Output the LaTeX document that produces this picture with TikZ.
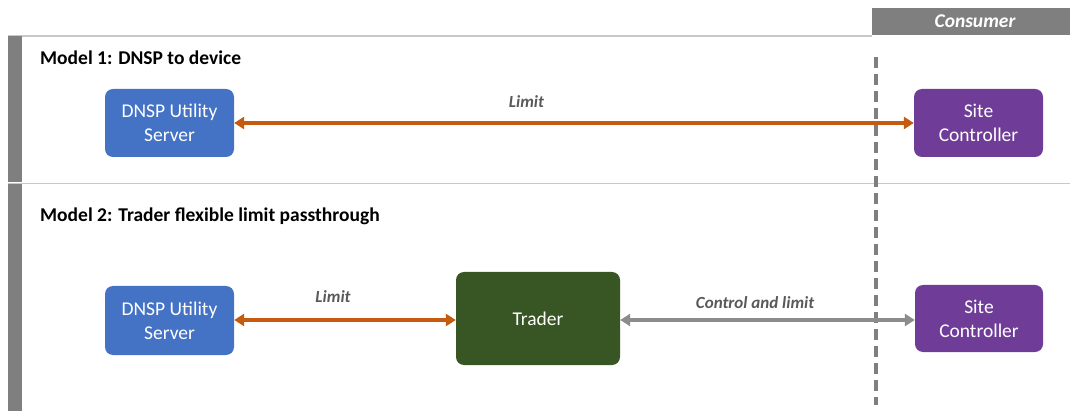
\documentclass[tikz,border=0pt]{standalone}
\usepackage{fontspec}
\setmainfont{Carlito}
\usetikzlibrary{arrows.meta}
\definecolor{cblue}{HTML}{4472C4}
\definecolor{cpurple}{HTML}{6F3D98}
\definecolor{cgreen}{HTML}{375623}
\definecolor{corange}{HTML}{C55A11}
\definecolor{cgray}{HTML}{7F7F7F}
\definecolor{clight}{HTML}{C8C8C8}
\definecolor{ctext}{HTML}{595959}
\tikzset{
  box/.style={rounded corners=8pt, text=white, align=center, font=\fontsize{19.5}{24}\selectfont, inner sep=0pt},
  title/.style={anchor=west, font=\bfseries\fontsize{19.5}{24}\selectfont, inner sep=0pt},
  lbl/.style={font=\bfseries\itshape\fontsize{17}{20}\selectfont, text=ctext, inner sep=0pt},
  oarrow/.style={draw=corange, line width=3.6pt, {Triangle[width=12pt,length=10pt]}-{Triangle[width=12pt,length=10pt]}},
  garrow/.style={draw=cgray!90, line width=3.6pt, {Triangle[width=12pt,length=10pt]}-{Triangle[width=12pt,length=10pt]}},
}
\begin{document}
\begin{tikzpicture}[x=1pt,y=-1pt]
\useasboundingbox (0,0) rectangle (1070,411);
% header
\fill[cgray] (872,8) rectangle (1070,35);
\node[font=\bfseries\itshape\fontsize{19.5}{24}\selectfont, text=white, inner sep=0pt] (cons) at (975,21.5) {Consumer};
% frame lines
\draw[clight, line width=1.5pt] (8,36) -- (872,36);
\draw[clight, line width=1.5pt] (8,183.5) -- (1070,183.5);
\fill[cgray] (8,36) rectangle (22,182.5);
\fill[cgray] (8,184.5) rectangle (22,411);
% dashed consumer boundary
\draw[cgray, line width=4pt, dash pattern=on 11pt off 6pt] (876,57) -- (876,405);
% titles
\node[title] (t1) at (40,58) {Model 1: DNSP to device};
\node[title] (t2) at (40,216) {Model 2: Trader flexible limit passthrough};
% model 1
\node[box, fill=cblue, minimum width=129pt, minimum height=68pt] (d1) at (169.5,123) {DNSP Utility\\Server};
\node[box, fill=cpurple, minimum width=129pt, minimum height=68pt] (s1) at (978.5,123) {Site\\Controller};
\draw[oarrow] (d1.east) -- (s1.west) node[lbl, pos=0.43, above=14pt] (l1) {Limit};
% model 2
\node[box, fill=cblue, minimum width=129pt, minimum height=69pt] (d2) at (169.5,320.5) {DNSP Utility\\Server};
\node[box, fill=cgreen, minimum width=164pt, minimum height=93pt] (tr) at (538,318.5) {Trader};
\node[box, fill=cpurple, minimum width=128pt, minimum height=67pt] (s2) at (979,318.5) {Site\\Controller};
\draw[oarrow] (d2.east |- 0,320) -- (tr.west |- 0,320) node[lbl, pos=0.446, above=16pt] (l2) {Limit};
\draw[garrow] (tr.east |- 0,320) -- (s2.west |- 0,320) node[lbl, pos=0.458, above=10pt] (l3) {Control and limit};
\end{tikzpicture}
\end{document}
